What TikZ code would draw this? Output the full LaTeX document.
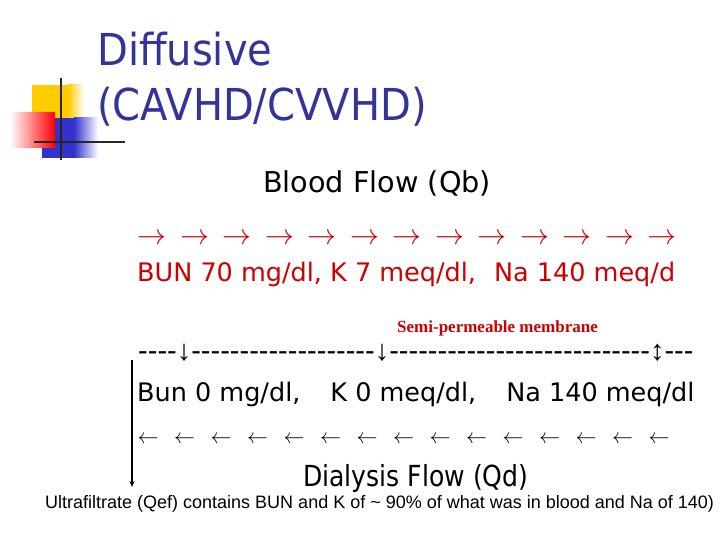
\documentclass[tikz,border=0pt]{standalone}
\usepackage{fix-cm}
\usepackage{fontspec}
\usepackage{tikz}
\usetikzlibrary{positioning,arrows.meta}

\newfontfamily\tahoma{DejaVu Sans}
\newfontfamily\titlefont[FakeStretch=0.91]{DejaVu Sans}
\newfontfamily\condensed[FakeStretch=0.865]{DejaVu Sans}
\newfontfamily\arialfont{Liberation Sans}
\newfontfamily\timesfont{Liberation Serif}

\definecolor{titleblue}{RGB}{51,51,153}
\definecolor{bloodred}{RGB}{204,0,0}
\definecolor{pixyellow}{RGB}{255,204,0}
\definecolor{pixred}{RGB}{255,0,0}
\definecolor{pixblue}{RGB}{51,51,204}

% a run of single hyphens (no -- ligature)
\newcommand\dashrun[1]{\foreach\k in {1,...,#1}{\mbox{-}}}

\begin{document}
\begin{tikzpicture}[x=1pt,y=-1pt,
                    every node/.style={inner sep=0pt,anchor=base west},
                    title text/.style={font=\titlefont\fontsize{44}{53}\selectfont,text=titleblue},
                    body text/.style={font=\tahoma\fontsize{25.5}{30}\selectfont},
                    flow arrow/.style={font=\fontsize{29}{34}\selectfont,text=bloodred,anchor=center},
                    back arrow/.style={font=\fontsize{21}{24}\selectfont,anchor=center}]
	\fill[white] (0,0) rectangle (720,540);
	\useasboundingbox (0,0) rectangle (720,540);

	% pixel squares of the slide
	\fill[pixyellow] (32,85) rectangle (68,135);
	\shade[left color=pixyellow,right color=white] (68,85) rectangle (84,135);
	\fill[pixblue] (42,118) rectangle (74,158);
	\shade[left color=pixblue,right color=white] (74,118) rectangle (98,158);
	\shade[left color=white,right color=pixred] (10,113) rectangle (55,148);
	\draw[black!85,line width=2pt] (61,78) -- (61,160);
	\draw[black!85,line width=2pt] (34,142) -- (125,142);

	\node[title text] (title1) at (97,66) {Diffusive};
	\node[title text] (title2) at (97,121) {(CAVHD/CVVHD)};

	% blood side
	\node[font=\tahoma\fontsize{28.7}{34}\selectfont] (qb) at (263,193) {Blood Flow (Qb)};
	\foreach \i in {0,...,12}
		\node[flow arrow] (qb arrow \i) at ({152+42.5*\i},239) {$\rightarrow$};
	\node[body text,text=bloodred] (blood) at (137,281)
		{BUN 70 mg/dl, K 7 meq/dl,\hspace{10pt} Na 140 meq/d};

	% membrane
	\node[font=\timesfont\bfseries\fontsize{17}{20}\selectfont,text=bloodred] (semi) at (397,332)
		{Semi-permeable membrane};
	\node[font=\arialfont\fontsize{29}{35}\selectfont] (membrane) at (138,360)
		{\dashrun{4}↓\dashrun{19}↓\dashrun{27}↕\dashrun{3}};

	% dialysate side
	\node[body text] (dialysate) at (137,401)
		{Bun 0 mg/dl,\hspace{30pt}K 0 meq/dl,\hspace{30pt}Na 140 meq/dl};
	\foreach \i in {0,...,14}
		\node[back arrow] (qd arrow \i) at ({148+36.5*\i},440) {$\leftarrow$};
	\node[font=\condensed\fontsize{29}{34}\selectfont] (qd) at (303,486) {Dialysis Flow (Qd)};

	% ultrafiltrate
	\coordinate (uf top) at (132,360);
	\coordinate (uf tip) at (132,487);
	\draw[line width=1.5pt,-{Stealth[length=6pt,width=5pt]}] (uf top) -- (uf tip);
	\node[font=\arialfont\fontsize{18}{22}\selectfont] (uf) at (45,508)
		{Ultrafiltrate (Qef) contains BUN and K of \textasciitilde{} 90\% of what was in blood and Na of 140)};
\end{tikzpicture}
\end{document}
